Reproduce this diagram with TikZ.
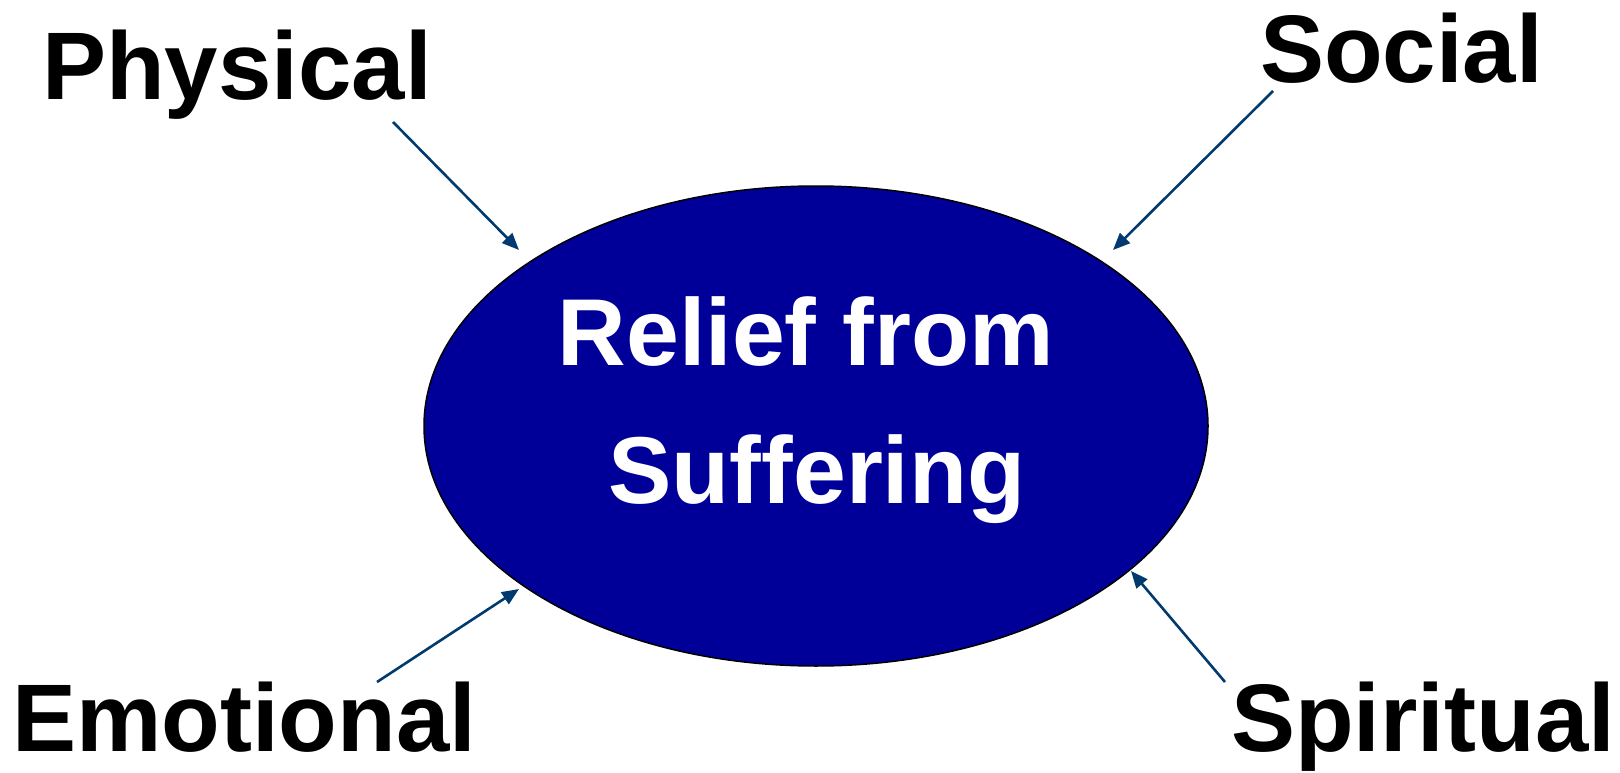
\documentclass[tikz,border=0pt]{standalone}
\usepackage{fontspec}
\setmainfont{Liberation Sans}
\usetikzlibrary{arrows.meta,shapes.geometric}
\definecolor{arrowblue}{HTML}{003A6E}
\definecolor{ellfill}{HTML}{000099}
\tikzset{
  lab/.style={font=\fontsize{96}{110}\selectfont\bfseries, anchor=base west, inner sep=0pt},
  conn/.style={draw=arrowblue, line width=2.6pt, -{Triangle[length=17pt,width=14pt]}, shorten >=0pt},
}
\begin{document}
\begin{tikzpicture}[x=1pt,y=-1pt]
\useasboundingbox (0,0) rectangle (1620,773);
\fill[ellfill, draw=black, line width=1.5pt] (816,426) ellipse [x radius=392, y radius=240];
\node[font=\fontsize{95}{138}\selectfont\bfseries, text=white, align=center, anchor=base, inner sep=0pt] (center) at (806,503) {Relief from\\\hspace*{22pt}Suffering};
\node[lab] (phys) at (42,100) {Physical};
\node[lab] (soc) at (1260,83) {Social};
\node[lab] (emo) at (12,751) {Emotional};
\node[lab] (spir) at (1231,751) {Spiritual};
\coordinate (p1) at (393,122);
\coordinate (p2) at (519,250);
\coordinate (s1) at (1273,91);
\coordinate (s2) at (1113,250);
\coordinate (e1) at (377,682);
\coordinate (e2) at (519,589);
\coordinate (r1) at (1225,682);
\coordinate (r2) at (1131,571);
\draw[conn] (p1) -- (p2);
\draw[conn] (s1) -- (s2);
\draw[conn] (e1) -- (e2);
\draw[conn] (r1) -- (r2);
\end{tikzpicture}
\end{document}
